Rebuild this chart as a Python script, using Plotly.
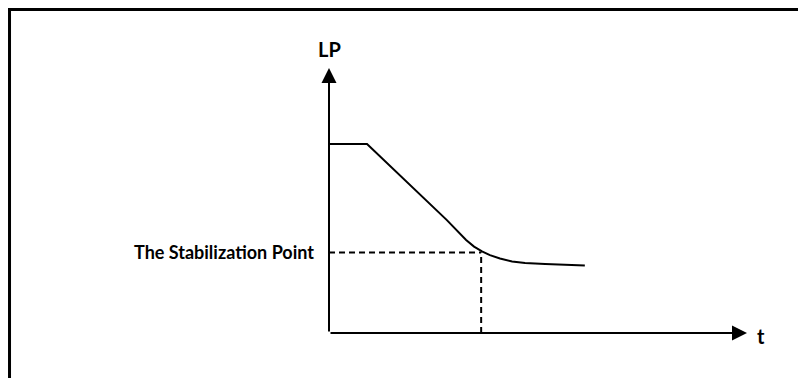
import plotly.graph_objects as go

# curve of LP over time (schematic units, axis tips sit at 10)
t_curve = [0.0, 0.91, 2.82, 3.06, 3.28, 3.47, 3.66, 3.85, 4.09, 4.38, 4.69, 5.17, 6.12]
lp_curve = [7.13, 7.13, 4.26, 3.85, 3.51, 3.26, 3.08, 2.94, 2.81, 2.70, 2.64, 2.60, 2.55]

# stabilization point
stab_t = 3.64
stab_lp = 3.04

# axis extents
axis_max_t = 10
axis_max_lp = 10

label_y = "LP"
label_x = "t"
label_stab = "The Stabilization Point"

fig = go.Figure()

# dashed guides to the stabilization point
fig.add_trace(go.Scatter(x=[0, stab_t], y=[stab_lp, stab_lp], mode="lines",
                         line=dict(color="black", width=2, dash="6px,4px"),
                         hoverinfo="skip"))
fig.add_trace(go.Scatter(x=[stab_t, stab_t], y=[0, stab_lp], mode="lines",
                         line=dict(color="black", width=2, dash="6px,4px"),
                         hoverinfo="skip"))

# LP curve
fig.add_trace(go.Scatter(x=t_curve, y=lp_curve, mode="lines",
                         line=dict(color="black", width=2),
                         hoverinfo="skip"))

# axes with arrow heads
for x, y in [(0, axis_max_lp), (axis_max_t, 0)]:
    fig.add_annotation(x=x, y=y, ax=0, ay=0, xref="x", yref="y", axref="x", ayref="y",
                       showarrow=True, arrowhead=2, arrowsize=1.5, arrowwidth=2,
                       arrowcolor="black", text="", standoff=0)

fam = "Lato, 'Open Sans', sans-serif"
fig.add_annotation(x=0, y=axis_max_lp + 0.7, text="<b>" + label_y + "</b>", showarrow=False,
                   font=dict(family=fam, size=20, color="black"))
fig.add_annotation(x=axis_max_t + 0.2, y=-0.1, text="<b>" + label_x + "</b>", showarrow=False,
                   xanchor="left", font=dict(family=fam, size=20, color="black"))
fig.add_annotation(x=-0.31, y=stab_lp, text="<b>" + label_stab + "</b>", showarrow=False,
                   xanchor="right", font=dict(family=fam, size=18, color="black"))

# frame around the figure (cut off on right and bottom)
fig.add_shape(type="rect", xref="paper", yref="paper", x0=0.0019, y0=-0.05, x1=1.05, y1=0.996,
              line=dict(color="black", width=3))

fig.update_layout(
    width=798, height=370,
    margin=dict(l=0, r=0, t=0, b=0),
    paper_bgcolor="white", plot_bgcolor="white",
    showlegend=False,
    xaxis=dict(range=[-7.679, 11.411], visible=False, fixedrange=True),
    yaxis=dict(range=[-1.698, 12.264], visible=False, fixedrange=True),
)

fig.write_html("out.html")
